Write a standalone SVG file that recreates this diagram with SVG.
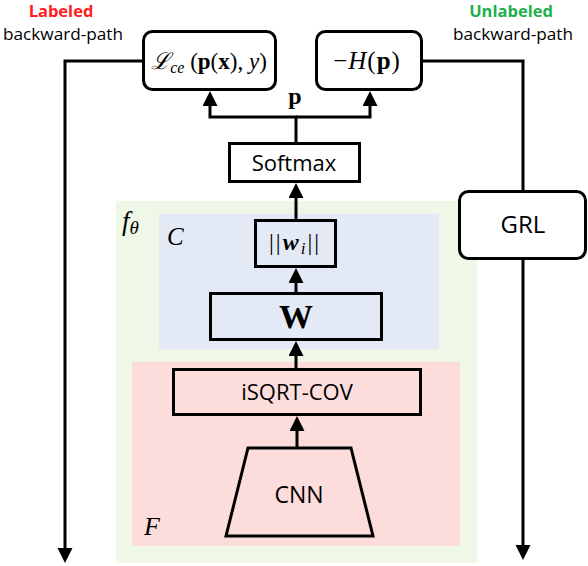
<svg xmlns="http://www.w3.org/2000/svg" width="588" height="566" viewBox="0 0 588 566">
<style>
.box{fill:#fff;stroke:#000;stroke-width:3}
.inner{fill:none;stroke:#000;stroke-width:3}
.con{fill:none;stroke:#000;stroke-width:3}
.sans{font-family:"Open Sans","Noto Sans",sans-serif;fill:#000}
.math{font-family:"Liberation Serif","DejaVu Serif",serif;fill:#000}
.it{font-style:italic}
.bf{font-weight:bold}
</style>
<defs>
<marker id="ah" markerUnits="userSpaceOnUse" markerWidth="16" markerHeight="16" refX="4" refY="7.5" orient="auto">
<path d="M0,0 L15,7.5 L0,15 z" fill="#000"/>
</marker>
</defs>
<g id="regions">
<rect id="f-theta-region" x="116" y="201" width="361" height="362" fill="#eff8e7"/>
<rect id="C-region" x="159" y="214" width="280" height="135" fill="#e4eaf5"/>
<rect id="F-region" x="132" y="362" width="328" height="184" fill="#fddcdc"/>
</g>
<g id="region-labels">
<text class="math it" x="122" y="230" font-size="27">f<tspan font-size="19" dy="4">θ</tspan></text>
<text class="math it" x="167" y="245" font-size="25">C</text>
<text class="math it" x="144" y="535" font-size="26">F</text>
</g>
<g id="path-labels">
<text class="sans bf" x="61" y="17" font-size="16.5" text-anchor="middle" style="fill:#ff2020">Labeled</text>
<text class="sans" x="63" y="40" font-size="17.2" text-anchor="middle">backward-path</text>
<text class="sans bf" x="511" y="17" font-size="16.5" text-anchor="middle" style="fill:#1db04f">Unlabeled</text>
<text class="sans" x="513" y="40" font-size="17.2" text-anchor="middle">backward-path</text>
</g>
<g id="connectors">
<path class="con" d="M143,61 H65 V552" marker-end="url(#ah)"/>
<path class="con" d="M422,61 H523 V191"/>
<path class="con" d="M523,259 V549" marker-end="url(#ah)"/>
<path class="con" d="M296,143 V117 H210 V102" marker-end="url(#ah)"/>
<path class="con" d="M296,117 H370 V102" marker-end="url(#ah)"/>
<path class="con" d="M296,220 V194" marker-end="url(#ah)"/>
<path class="con" d="M296,293 V279" marker-end="url(#ah)"/>
<path class="con" d="M296,369 V352" marker-end="url(#ah)"/>
<path class="con" d="M297,448 V427" marker-end="url(#ah)"/>
<text class="math bf" x="295" y="104" font-size="24" text-anchor="middle">p</text>
</g>
<g id="node-lce">
<rect class="box" x="143.5" y="31.5" width="132" height="58" rx="9"/>
<text class="math" x="209" y="69" font-size="23" text-anchor="middle"><tspan class="it">ℒ</tspan><tspan class="it" font-size="16" dy="4">ce</tspan><tspan dy="-4"> (</tspan><tspan class="bf">p</tspan>(<tspan class="bf">x</tspan>), <tspan class="it">y</tspan>)</text>
</g>
<g id="node-h">
<rect class="box" x="316.5" y="31.5" width="105" height="58" rx="9"/>
<text class="math" x="367" y="69" font-size="25" text-anchor="middle" letter-spacing="1">−<tspan class="it">H</tspan>(<tspan class="bf">p</tspan>)</text>
</g>
<g id="node-softmax">
<rect class="box" x="229.5" y="143.5" width="130" height="38"/>
<text class="sans" x="294" y="171" font-size="22" text-anchor="middle">Softmax</text>
</g>
<g id="node-grl">
<rect class="box" x="459.5" y="191.5" width="126" height="67" rx="9"/>
<text class="sans" x="523" y="233" font-size="24" text-anchor="middle">GRL</text>
</g>
<g id="node-norm">
<rect class="inner" x="255.5" y="220.5" width="80" height="46"/>
<text class="math" x="295" y="250" font-size="24" text-anchor="middle" letter-spacing="2">||<tspan class="it bf">w</tspan><tspan class="it" font-size="17" dy="4">i</tspan><tspan dy="-4">||</tspan></text>
</g>
<g id="node-w">
<rect class="inner" x="210.5" y="293.5" width="171" height="46"/>
<text class="math bf" x="296" y="328" font-size="34" text-anchor="middle">W</text>
</g>
<g id="node-isqrt">
<rect class="inner" x="173.5" y="369.5" width="247" height="45"/>
<text class="sans" x="297" y="400" font-size="22" text-anchor="middle">iSQRT-COV</text>
</g>
<g id="node-cnn">
<polygon class="inner" points="248,448 351,448 373,536 226,536"/>
<text class="sans" x="299" y="503" font-size="23" text-anchor="middle">CNN</text>
</g>
</svg>
